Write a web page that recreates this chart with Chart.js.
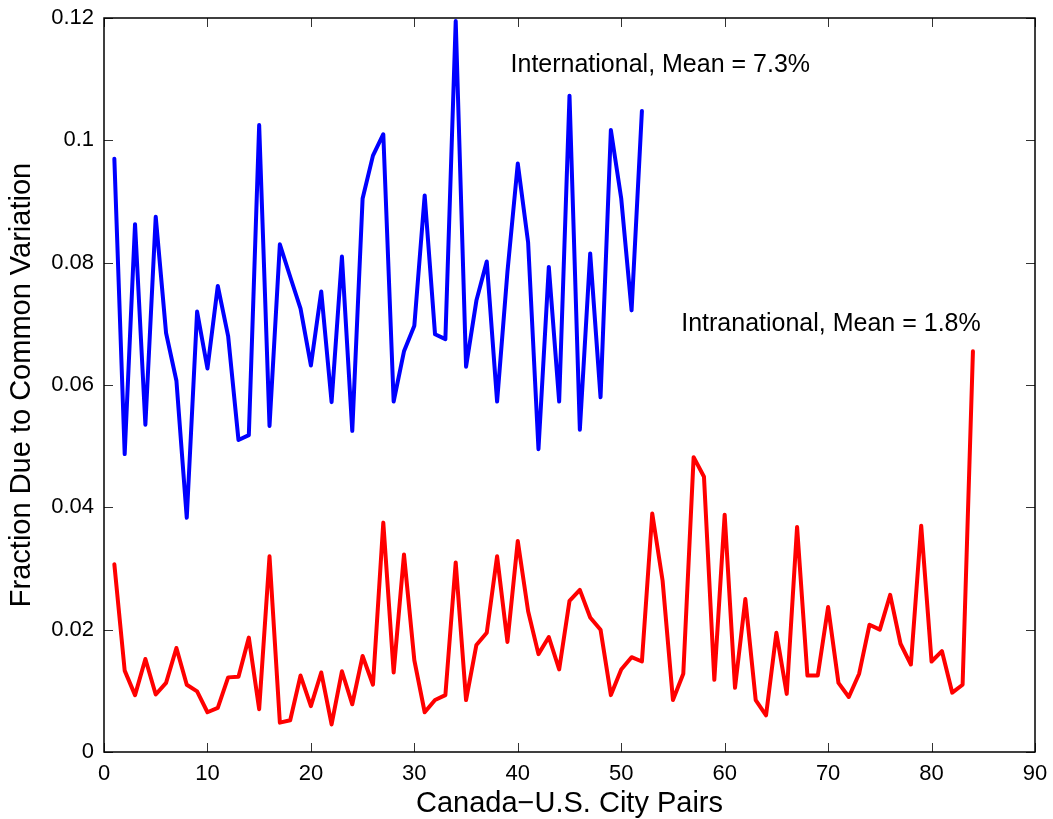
<!DOCTYPE html>
<html>
<head>
<meta charset="utf-8">
<script src="https://cdn.jsdelivr.net/npm/chart.js@4.4.1/dist/chart.umd.min.js"></script>
<style>
html,body{margin:0;padding:0;background:#fff;}
#wrap{width:1053px;height:819px;position:relative;}
</style>
</head>
<body>
<div id="wrap"><canvas id="c" width="1053" height="819"></canvas></div>
<script>
const international = [0.097,0.0487,0.0863,0.0535,0.0875,0.0685,0.0607,0.0383,0.072,0.0627,
0.0762,0.068,0.051,0.0518,0.1025,0.0533,0.083,0.0777,0.0725,0.0632,
0.0753,0.0572,0.081,0.0525,0.0905,0.0975,0.101,0.0573,0.0655,0.0697,
0.091,0.0683,0.0675,0.1195,0.063,0.0738,0.0802,0.0573,0.0785,0.0962,
0.0833,0.0495,0.0793,0.0573,0.1073,0.0527,0.0815,0.058,0.1017,0.0905,
0.0722,0.1048];
const intranational = [0.0307,0.0133,0.0093,0.0152,0.0094,0.0113,0.017,0.011,0.0099,0.0065,
0.0072,0.0122,0.0123,0.0187,0.007,0.032,0.0048,0.0052,0.0125,0.0075,
0.013,0.0045,0.0132,0.0078,0.0157,0.011,0.0375,0.013,0.0323,0.015,
0.0065,0.0085,0.0093,0.031,0.0085,0.0175,0.0195,0.032,0.018,0.0345,
0.023,0.016,0.0188,0.0135,0.0247,0.0265,0.022,0.02,0.0093,0.0135,
0.0155,0.0148,0.039,0.028,0.0085,0.0128,0.0482,0.045,0.0118,0.0388,
0.0105,0.025,0.0085,0.006,0.0195,0.0095,0.0368,0.0125,0.0125,0.0237,
0.0113,0.009,0.0128,0.0208,0.02,0.0257,0.0177,0.0143,0.037,0.0148,
0.0165,0.0097,0.011,0.0655];
const xTicks = [0,10,20,30,40,50,60,70,80,90];
const yTicks = [0,0.02,0.04,0.06,0.08,0.1,0.12];
const yTickLabels = ['0','0.02','0.04','0.06','0.08','0.1','0.12'];
const xTickLabels = ['0','10','20','30','40','50','60','70','80','90'];
const annotations = [
  {text:'International, Mean = 7.3%', x:39.3, y:0.1123},
  {text:'Intranational, Mean = 1.8%', x:55.8, y:0.0700}
];

const FONT = '"Liberation Sans", Arial, sans-serif';

const boxPlugin = {
  id:'boxTicks',
  afterDraw(chart){
    const {ctx, chartArea:a, scales:{x, y}} = chart;
    ctx.save();
    ctx.strokeStyle = '#333';
    ctx.lineWidth = 1;
    const L = 9;
    ctx.beginPath();
    xTicks.forEach(v=>{
      const px = Math.round(x.getPixelForValue(v))+0.5;
      ctx.moveTo(px,a.bottom); ctx.lineTo(px,a.bottom-L);
      ctx.moveTo(px,a.top); ctx.lineTo(px,a.top+L);
    });
    yTicks.forEach(v=>{
      const py = Math.round(y.getPixelForValue(v))+0.5;
      ctx.moveTo(a.left,py); ctx.lineTo(a.left+L,py);
      ctx.moveTo(a.right,py); ctx.lineTo(a.right-L,py);
    });
    ctx.stroke();
    ctx.strokeStyle = '#000';
    ctx.lineWidth = 1.5;
    ctx.strokeRect(a.left, a.top, a.right-a.left, a.bottom-a.top);
    ctx.fillStyle = '#000';
    ctx.font = '25px ' + FONT;
    ctx.textAlign = 'left';
    ctx.textBaseline = 'middle';
    annotations.forEach(an=>{
      ctx.fillText(an.text, x.getPixelForValue(an.x), y.getPixelForValue(an.y));
    });
    ctx.restore();
  }
};

new Chart(document.getElementById('c'), {
  type:'line',
  data:{
    datasets:[
      {label:'International', data: international.map((v,i)=>({x:i+1,y:v})), borderColor:'#0000ff', borderWidth:4, pointRadius:0, fill:false, tension:0, borderJoinStyle:'round', borderCapStyle:'round'},
      {label:'Intranational', data: intranational.map((v,i)=>({x:i+1,y:v})), borderColor:'#ff0000', borderWidth:4, pointRadius:0, fill:false, tension:0, borderJoinStyle:'round', borderCapStyle:'round'}
    ]
  },
  options:{
    responsive:false,
    animation:false,
    devicePixelRatio:1,
    layout:{padding:{left:0, top:18, right:18, bottom:0}},
    plugins:{legend:{display:false}, tooltip:{enabled:false}},
    scales:{
      x:{
        type:'linear', min:0, max:90,
        grid:{display:false, drawTicks:false},
        border:{display:false},
        afterBuildTicks(s){ s.ticks = xTicks.map(v=>({value:v})); },
        afterFit(s){ s.height = 67; s.paddingLeft = 0; s.paddingRight = 0; },
        ticks:{color:'#000', font:{family:FONT, size:22}, padding:9, maxRotation:0,
          callback:(v)=>{ const i = xTicks.indexOf(v); return i>=0 ? xTickLabels[i] : ''; }},
        title:{display:true, text:'Canada\u2212U.S. City Pairs', color:'#000', font:{family:FONT, size:29, lineHeight:1.05}, padding:{top:0, bottom:0}}
      },
      y:{
        type:'linear', min:0, max:0.12,
        grid:{display:false, drawTicks:false},
        border:{display:false},
        afterBuildTicks(s){ s.ticks = yTicks.map(v=>({value:v})); },
        afterFit(s){ s.width = 104; s.paddingTop = 0; s.paddingBottom = 0; },
        ticks:{color:'#000', font:{family:FONT, size:22}, padding:10,
          callback:(v)=>{ const i = yTicks.findIndex(t=>Math.abs(t-v)<1e-9); return i>=0 ? yTickLabels[i] : ''; }},
        title:{display:true, text:'Fraction Due to Common Variation', color:'#000', font:{family:FONT, size:29, lineHeight:1.05}, padding:{top:7, bottom:0}}
      }
    }
  },
  plugins:[boxPlugin]
});
</script>
</body>
</html>
